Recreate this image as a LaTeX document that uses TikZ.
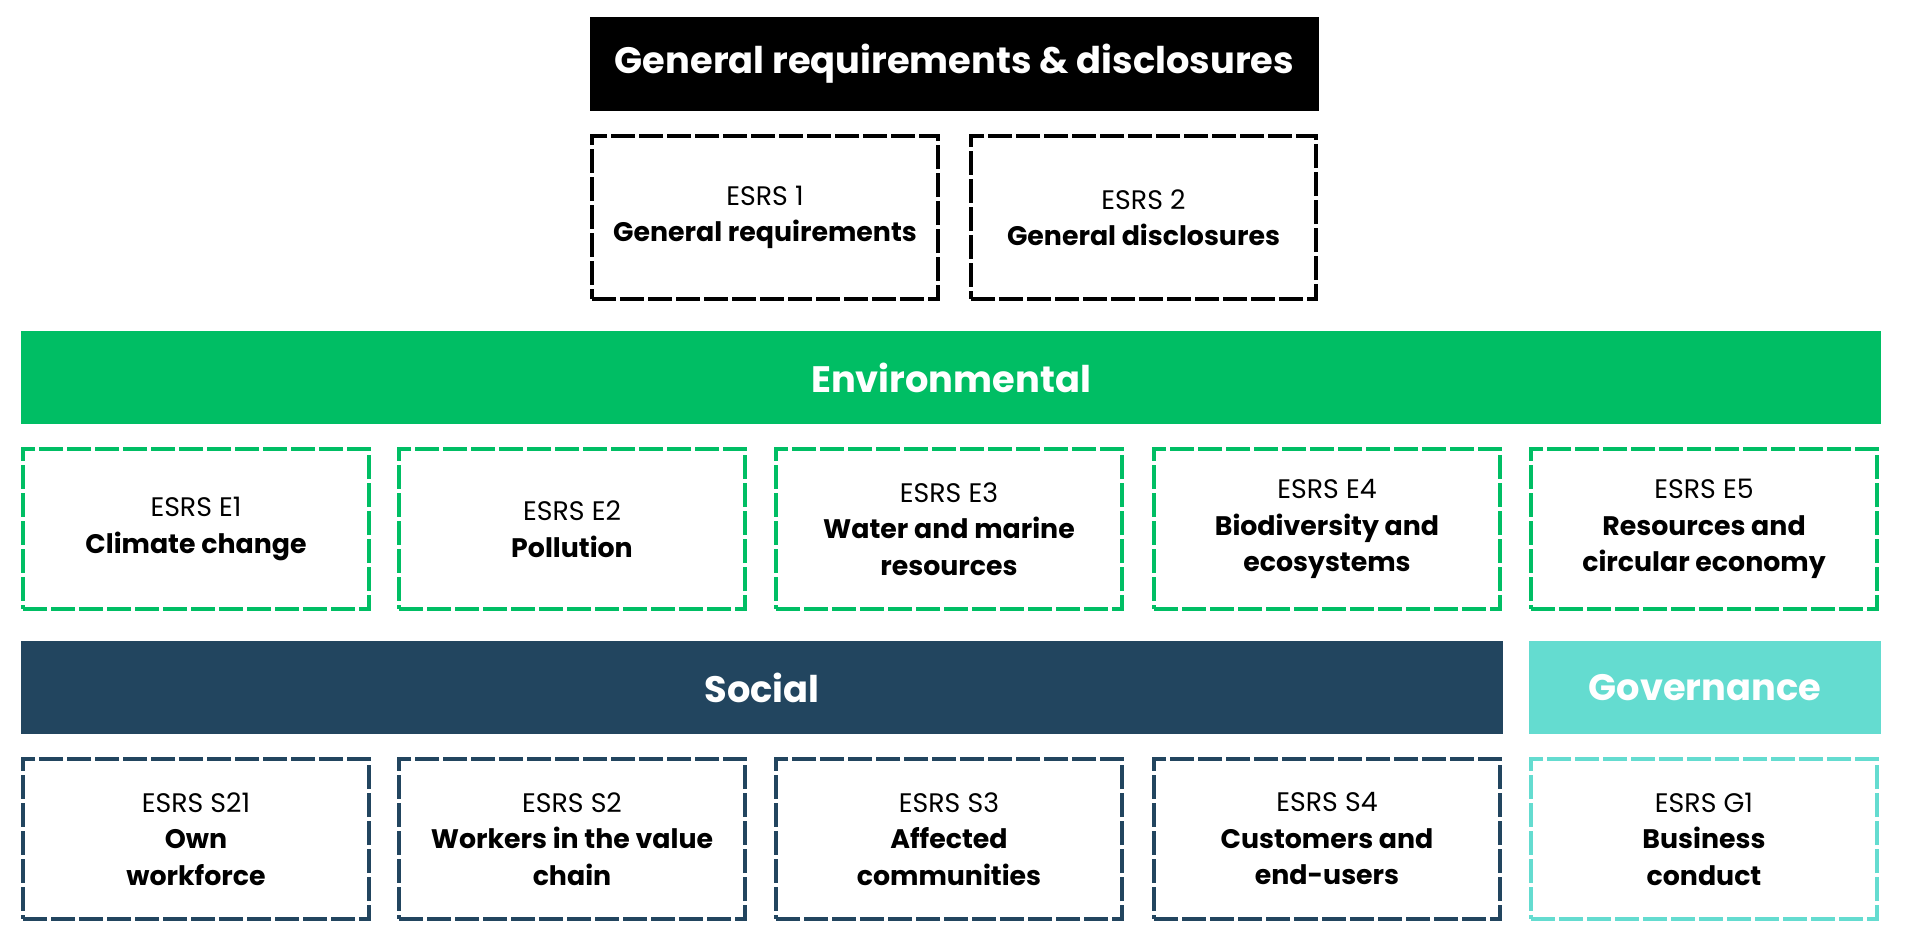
\documentclass[tikz,border=0pt]{standalone}
\usepackage{fontspec}
\setmainfont{Poppins}
\definecolor{envgreen}{HTML}{00BE64}
\definecolor{socnavy}{HTML}{22455F}
\definecolor{govteal}{HTML}{64DCD0}
\tikzset{
  bar/.style={rectangle, inner sep=0pt, outer sep=0pt, text=white, font=\fontsize{36.8}{40}\selectfont\bfseries},
  dbox/.style={rectangle, draw=#1, line width=4pt, dash pattern=on 24pt off 4pt, inner sep=0pt, outer sep=0pt,
    minimum width=346pt, minimum height=160pt, align=center, text=black, font=\fontsize{26.8}{36.5}\selectfont},
}
\begin{document}
\begin{tikzpicture}[x=1pt,y=-1pt]
\useasboundingbox (0,0) rectangle (1906,950);
% header
\node[bar, fill=black, minimum width=729pt, minimum height=94pt] (gen) at (954.5,64) {General requirements \& disclosures};
\node[dbox=black, minimum width=346pt, minimum height=163pt] (e1) at (765,217.5) {ESRS 1\\\textbf{General requirements}};
\node[dbox=black, minimum width=345pt, minimum height=163pt] (e2) at (1143.5,217.5) {ESRS 2\\\textbf{General disclosures}};
% environmental
\node[bar, fill=envgreen, minimum width=1860pt, minimum height=93pt] (env) at (951,377.5) {Environmental};
\node[dbox=envgreen] (ee1) at (196,529) {ESRS E1\\\textbf{Climate change}};
\node[dbox=envgreen] (ee2) at (572,529) {ESRS E2\\\textbf{Pollution}};
\node[dbox=envgreen] (ee3) at (949,529) {ESRS E3\\\textbf{Water and marine}\\\textbf{resources}};
\node[dbox=envgreen] (ee4) at (1327,529) {ESRS E4\\\textbf{Biodiversity and}\\\textbf{ecosystems}};
\node[dbox=envgreen] (ee5) at (1704,529) {ESRS E5\\\textbf{Resources and}\\\textbf{circular economy}};
% social
\node[bar, fill=socnavy, minimum width=1482pt, minimum height=93pt] (soc) at (762,687.5) {Social};
\node[bar, fill=govteal, minimum width=352pt, minimum height=93pt] (gov) at (1705,687.5) {Governance};
\node[dbox=socnavy] (s1) at (196,839) {ESRS S21\\\textbf{Own}\\\textbf{workforce}};
\node[dbox=socnavy] (s2) at (572,839) {ESRS S2\\\textbf{Workers in the value}\\\textbf{chain}};
\node[dbox=socnavy] (s3) at (949,839) {ESRS S3\\\textbf{Affected}\\\textbf{communities}};
\node[dbox=socnavy] (s4) at (1327,839) {ESRS S4\\\textbf{Customers and}\\\textbf{end-users}};
\node[dbox=govteal] (g1) at (1704,839) {ESRS G1\\\textbf{Business}\\\textbf{conduct}};
\end{tikzpicture}
\end{document}
